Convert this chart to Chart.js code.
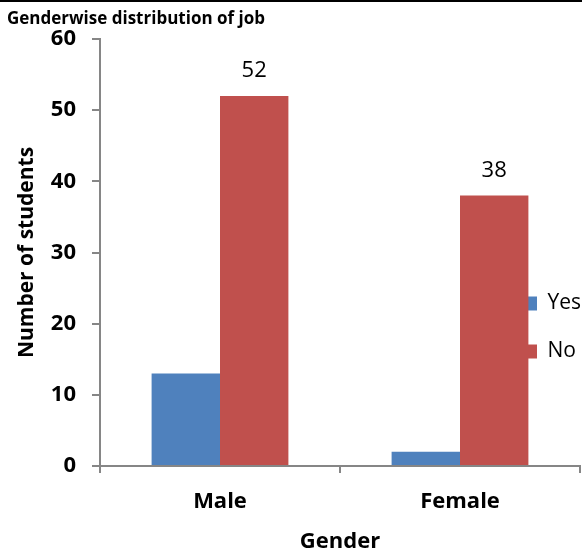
<!DOCTYPE html>
<html>
<head>
<meta charset="utf-8">
<script src="https://cdn.jsdelivr.net/npm/chart.js@4"></script>
<style>
    html, body { margin: 0; padding: 0; background: #fff; }
    #jobChart { display: block; }
</style>
</head>
<body>
<canvas id="jobChart" width="582" height="553"></canvas>
<script>
const genders = ['Male', 'Female'];
const yesCounts = [13, 2];
const noCounts = [52, 38];
const yTicks = [0, 10, 20, 30, 40, 50, 60];

const axisGrey = '#868686';

Chart.defaults.font.family = "'Open Sans', sans-serif";
Chart.defaults.color = '#000';

// white page plus the thin black rule across the top
const topRule = {
    id: 'topRule',
    beforeDraw(chart) {
        const ctx = chart.ctx;
        ctx.save();
        ctx.fillStyle = '#fff';
        ctx.fillRect(0, 0, chart.width, chart.height);
        ctx.fillStyle = '#000';
        ctx.fillRect(0, 0, chart.width, 2);
        ctx.restore();
    }
};

// legend sits on the right, over the plot area
const legendSpot = {
    id: 'legendSpot',
    afterLayout(chart) {
        const lg = chart.legend;
        const w = lg.width, h = lg.height;
        lg.left = 496;
        lg.right = lg.left + w;
        lg.top = 266;
        lg.bottom = lg.top + h;
    }
};

// value labels above the "No" bars
const valueLabels = {
    id: 'valueLabels',
    afterDatasetsDraw(chart) {
        const ctx = chart.ctx;
        const meta = chart.getDatasetMeta(1);
        const values = chart.data.datasets[1].data;
        ctx.save();
        ctx.font = "22px 'Open Sans', sans-serif";
        ctx.fillStyle = '#000';
        ctx.textAlign = 'center';
        ctx.textBaseline = 'middle';
        meta.data.forEach((bar, i) => {
            ctx.fillText(String(values[i]), bar.x, bar.y - 25);
        });
        ctx.restore();
    }
};

const ctx = document.getElementById('jobChart').getContext('2d');
new Chart(ctx, {
    type: 'bar',
    data: {
        labels: genders,
        datasets: [
            { label: 'Yes', data: yesCounts, backgroundColor: '#4F81BD', borderWidth: 0 },
            { label: 'No', data: noCounts, backgroundColor: '#C0504D', borderWidth: 0 }
        ]
    },
    options: {
        responsive: false,
        animation: false,
        devicePixelRatio: 1,
        categoryPercentage: 0.57,
        barPercentage: 1.0,
        layout: { padding: { left: 7, right: 2 } },
        plugins: {
            title: {
                display: true,
                text: 'Genderwise distribution of job',
                align: 'start',
                color: '#000',
                font: { size: 17, weight: 'bold', lineHeight: 1.2 },
                padding: { top: 9, bottom: 9.6 }
            },
            legend: {
                position: 'chartArea',
                align: 'start',
                labels: {
                    boxWidth: 14,
                    boxHeight: 14,
                    padding: 27,
                    color: '#000',
                    font: { size: 21 }
                }
            },
            tooltip: { enabled: false }
        },
        scales: {
            x: {
                afterFit(scale) { scale.height = 87; },
                border: { display: true, color: axisGrey, width: 2 },
                grid: { drawOnChartArea: false, drawTicks: true, tickLength: 7, color: axisGrey, lineWidth: 2 },
                ticks: { color: '#000', padding: 16, font: { size: 22, weight: 'bold' } },
                title: {
                    display: true,
                    text: 'Gender',
                    color: '#000',
                    font: { size: 22, weight: 'bold', lineHeight: 1 },
                    padding: { top: 0, bottom: 0 }
                }
            },
            y: {
                min: yTicks[0],
                max: yTicks[yTicks.length - 1],
                afterFit(scale) { scale.width = 93; },
                afterBuildTicks(scale) { scale.ticks = yTicks.map(v => ({ value: v })); },
                border: { display: true, color: axisGrey, width: 2 },
                grid: { drawOnChartArea: false, drawTicks: true, tickLength: 8, color: axisGrey, lineWidth: 2 },
                ticks: { color: '#000', padding: 16, font: { size: 22, weight: 'bold' } },
                title: {
                    display: true,
                    text: 'Number of students',
                    color: '#000',
                    font: { size: 21, weight: 'bold', lineHeight: 1.2 },
                    padding: { top: 7, bottom: 0 }
                }
            }
        }
    },
    plugins: [topRule, legendSpot, valueLabels]
});
</script>
</body>
</html>
